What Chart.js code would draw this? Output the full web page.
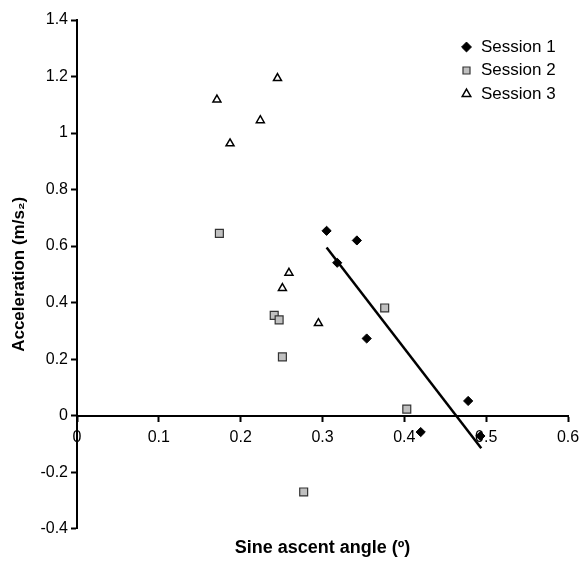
<!DOCTYPE html>
<html><head><meta charset="utf-8">
<script src="https://cdn.jsdelivr.net/npm/chart.js@4"></script>
<style>html,body{margin:0;padding:0;background:#fff}</style>
</head><body>
<canvas id="c" width="579" height="566"></canvas>
<script>
const session1X = [0.305, 0.318, 0.342, 0.354, 0.420, 0.478, 0.493];
const session1Y = [0.654, 0.541, 0.620, 0.273, -0.058, 0.052, -0.072];
const session2X = [0.174, 0.241, 0.247, 0.251, 0.277, 0.376, 0.403];
const session2Y = [0.645, 0.355, 0.339, 0.208, -0.270, 0.381, 0.023];
const session3X = [0.171, 0.187, 0.224, 0.245, 0.251, 0.259, 0.295];
const session3Y = [1.118, 0.963, 1.045, 1.194, 0.451, 0.505, 0.327];
const trendX = [0.305, 0.494];
const trendY = [0.595, -0.115];
const seriesNames = ['Session 1', 'Session 2', 'Session 3'];
const xTickValues = [0, 0.1, 0.2, 0.3, 0.4, 0.5, 0.6];
const xTickLabels = ['0', '0.1', '0.2', '0.3', '0.4', '0.5', '0.6'];
const yTickValues = [-0.4, -0.2, 0, 0.2, 0.4, 0.6, 0.8, 1, 1.2, 1.4];
const yTickLabels = ['-0.4', '-0.2', '0', '0.2', '0.4', '0.6', '0.8', '1', '1.2', '1.4'];
const xTitle = 'Sine ascent angle (º)';
const yTitle = 'Acceleration (m/s₂)';

const FAM = "'Liberation Sans', Arial, Helvetica, sans-serif";
const zip = (xs, ys) => xs.map((x, i) => ({x: x, y: ys[i]}));

const legendMover = {
  id: 'legendMover',
  afterLayout(chart) {
    const lg = chart.legend;
    if (!lg) return;
    const w = lg.width;
    lg.left = 454;
    lg.right = 454 + w;
    lg.top = 32;
    lg.bottom = 32 + 200;
  }
};

new Chart(document.getElementById('c'), {
  type: 'scatter',
  data: {
    datasets: [
      {label: seriesNames[0], data: zip(session1X, session1Y), pointStyle: 'rectRot', pointRadius: 4.6,
       backgroundColor: '#000', borderColor: '#000', borderWidth: 1},
      {label: seriesNames[1], data: zip(session2X, session2Y), pointStyle: 'rect', pointRadius: 5.6,
       backgroundColor: '#c0c0c0', borderColor: '#333', borderWidth: 1.2},
      {label: seriesNames[2], data: zip(session3X, session3Y), pointStyle: 'triangle', pointRadius: 4.6,
       backgroundColor: '#fff', borderColor: '#000', borderWidth: 1.5},
      {label: 'trend', data: zip(trendX, trendY), showLine: true, pointRadius: 0,
       borderColor: '#000', borderWidth: 2.5, backgroundColor: '#000'}
    ]
  },
  options: {
    responsive: false,
    animation: false,
    devicePixelRatio: 1,
    layout: {padding: {left: 0, right: 11, top: 20, bottom: 0}},
    plugins: {
      tooltip: {enabled: false},
      legend: {
        position: 'chartArea',
        align: 'start',
        labels: {
          usePointStyle: true, boxWidth: 12, boxHeight: 7, padding: 6.5,
          color: '#000', font: {family: FAM, size: 17},
          filter: item => item.datasetIndex < 3
        }
      }
    },
    scales: {
      x: {
        type: 'linear', position: {y: 0}, min: 0, max: 0.6,
        afterBuildTicks: s => { s.ticks = xTickValues.map(v => ({value: v})); },
        afterFit: s => { s.paddingLeft = 0; s.paddingRight = 0; },
        ticks: {callback: (v, i) => xTickLabels[i], color: '#000', font: {family: FAM, size: 16},
                padding: 7, autoSkip: false, maxRotation: 0},
        grid: {display: true, drawOnChartArea: false, drawTicks: true, tickLength: 5, tickColor: '#000', tickWidth: 2},
        border: {display: true, color: '#000', width: 2}
      },
      xT: {
        type: 'linear', position: 'bottom', min: 0, max: 0.6,
        ticks: {display: false},
        grid: {display: false, drawTicks: false},
        border: {display: false},
        title: {display: true, text: xTitle, color: '#000',
                font: {family: FAM, size: 18, weight: 'bold'}, padding: {top: 8.5, bottom: 7.2}}
      },
      y: {
        type: 'linear', position: 'left', min: -0.4, max: 1.4,
        afterFit: s => { s.width = 77; },
        afterBuildTicks: s => { s.ticks = yTickValues.map(v => ({value: v})); },
        ticks: {callback: (v, i) => yTickLabels[i], color: '#000', font: {family: FAM, size: 16}, padding: 3},
        grid: {display: true, drawOnChartArea: false, drawTicks: true, tickLength: 6, tickColor: '#000', tickWidth: 2},
        border: {display: true, color: '#000', width: 2},
        title: {display: true, text: yTitle, color: '#000',
                font: {family: FAM, size: 17, weight: 'bold'}, padding: {top: 8.8, bottom: 0}}
      }
    }
  },
  plugins: [legendMover]
});
</script>
</body></html>
